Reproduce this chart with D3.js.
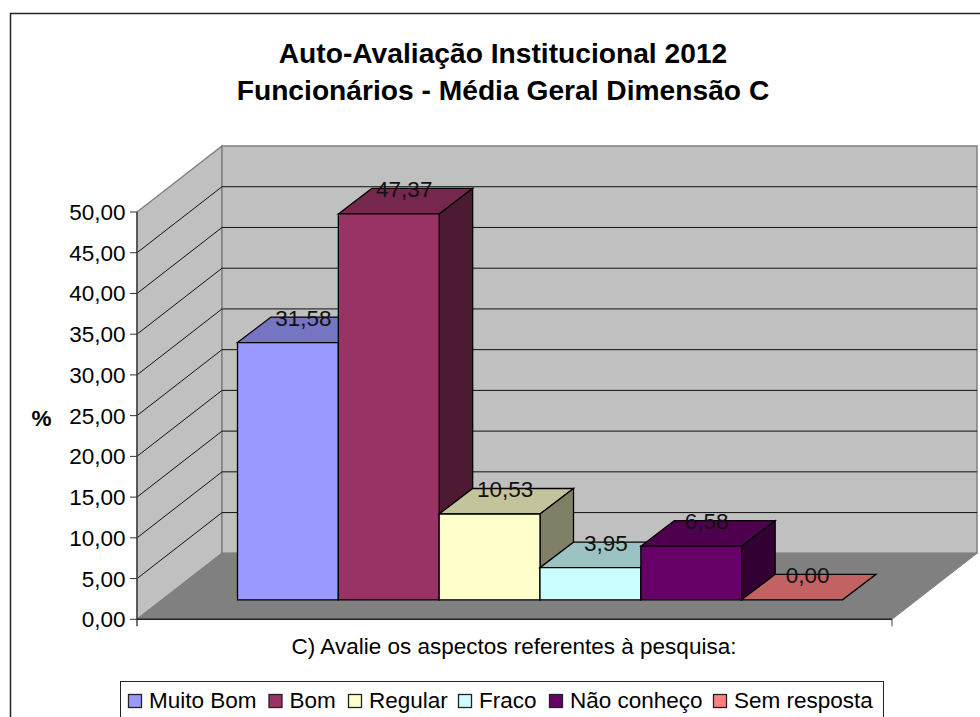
<!DOCTYPE html>
<html><head><meta charset="utf-8">
<script src="https://cdn.jsdelivr.net/npm/d3@7"></script>
<style>html,body{margin:0;padding:0;background:#fff}svg{display:block}text{font-family:"Liberation Sans",Arial,sans-serif;fill:#000}</style>
</head><body><svg id="c" width="980" height="717"></svg>
<script>
const titleLines = ["Auto-Avaliação Institucional 2012","Funcionários - Média Geral Dimensão C"];
const seriesNames = ["Muito Bom","Bom","Regular","Fraco","Não conheço","Sem resposta"];
const seriesValues = [31.58,47.37,10.53,3.95,6.58,0.00];
const frontColors = ["#9999ff","#993366","#ffffcc","#ccffff","#660066","#ff8080"];
const topColors = ["#7575c3","#75274e","#c3c39c","#9cc3c3","#4e004e","#c36262"];
const sideColors = ["#4d4d80","#4d1a33","#808066","#668080","#330033","#804040"];
const tickValues = d3.range(0,51,5);
const xTitle = "C) Avalie os aspectos referentes à pesquisa:";
const yTitle = "%";

const svg = d3.select("#c");
const fmt = v => v.toFixed(2).replace(".",",");
const line = d3.line();
const y = d3.scaleLinear().domain([0,50]).range([619.3,212]);
const wall = {dx:85, dy:-66};
const left = 137, right = 892;
const x = d3.scaleBand().domain(seriesNames).range([237.5,842.5]);
const bar = {dx:33.5, dy:-25.5, base:-19.5};
const FS = 22.5;

svg.append("rect").attr("x",10.5).attr("y",13.5).attr("width",1000).attr("height",730).attr("fill","#fff").attr("stroke","#222").attr("stroke-width",1.5);

const poly = (pts,fill,stroke,w) => svg.append("path").attr("d",line(pts)+"Z").attr("fill",fill).attr("stroke",stroke||"none").attr("stroke-width",w||1).attr("stroke-linejoin","miter");
poly([[left,y(0)],[left,y(50)],[left+wall.dx,y(50)+wall.dy],[left+wall.dx,y(0)+wall.dy]],"#c0c0c0","#808080",1.5);
poly([[left+wall.dx,y(50)+wall.dy],[right+wall.dx,y(50)+wall.dy],[right+wall.dx,y(0)+wall.dy],[left+wall.dx,y(0)+wall.dy]],"#c0c0c0","#808080",1.5);

tickValues.filter(t=>t>0&&t<50).forEach(t=>{
  svg.append("path").attr("d",line([[left,y(t)],[left+wall.dx,y(t)+wall.dy],[right+wall.dx,y(t)+wall.dy]])).attr("fill","none").attr("stroke","#111").attr("stroke-width",1);
});
poly([[left,y(0)],[left+wall.dx,y(0)+wall.dy],[right+wall.dx,y(0)+wall.dy],[right,y(0)]],"#808080","#808080",1);

svg.append("path").attr("d",line([[left,y(50)],[left,y(0)+7]])).attr("stroke","#444").attr("stroke-width",1.5).attr("fill","none");
svg.append("path").attr("d",line([[left,y(0)],[right,y(0)]])).attr("stroke","#222").attr("stroke-width",1.5).attr("fill","none");
svg.append("path").attr("d",line([[right,y(0)],[right,y(0)+7]])).attr("stroke","#444").attr("stroke-width",1).attr("fill","none");

tickValues.forEach(t=>{
  svg.append("path").attr("d",line([[130,y(t)],[left,y(t)]])).attr("stroke","#333").attr("stroke-width",1);
  svg.append("text").attr("x",125.5).attr("y",y(t)+8).attr("text-anchor","end").attr("font-size",FS).text(fmt(t));
});

seriesNames.forEach((n,i)=>{
  const x0=x(n), x1=x0+x.bandwidth(), v=seriesValues[i];
  const yb=y(0)+bar.base, yt=y(v)+bar.base;
  const s="#000";
  poly([[x0,yt],[x0+bar.dx,yt+bar.dy],[x1+bar.dx,yt+bar.dy],[x1,yt]],topColors[i],s,1.3);
  if(v>0){
    poly([[x1,yt],[x1+bar.dx,yt+bar.dy],[x1+bar.dx,yb+bar.dy],[x1,yb]],sideColors[i],s,1.3);
    poly([[x0,yt],[x1,yt],[x1,yb],[x0,yb]],frontColors[i],s,1.3);
  }
});
seriesNames.forEach((n,i)=>{
  const v=seriesValues[i], yt=y(v)+bar.base;
  svg.append("text").attr("x",x(n)+x.bandwidth()/2+15.5).attr("y",yt+bar.dy+8.5).attr("text-anchor","middle").attr("font-size",FS).attr("style","fill:#111").text(fmt(v));
});

titleLines.forEach((t,i)=>svg.append("text").attr("x",503).attr("y",63+i*37).attr("text-anchor","middle").attr("font-size",28.2).attr("font-weight","bold").text(t));
svg.append("text").attr("x",514).attr("y",653.5).attr("text-anchor","middle").attr("font-size",FS).text(xTitle);
svg.append("text").attr("x",41.5).attr("y",426).attr("text-anchor","middle").attr("font-size",FS).attr("font-weight","bold").text(yTitle);

svg.append("rect").attr("x",120.5).attr("y",681.5).attr("width",763).attr("height",50).attr("fill","#fff").attr("stroke","#222");
const legendX=[128.5,269,348.5,458.5,549.5,713.5];
seriesNames.forEach((n,i)=>{
  svg.append("rect").attr("x",legendX[i]).attr("y",694.5).attr("width",13).attr("height",13).attr("fill",frontColors[i]).attr("stroke","#222").attr("stroke-width",1.3);
  svg.append("text").attr("x",legendX[i]+20.5).attr("y",708).attr("font-size",FS).text(n);
});
</script></body></html>
